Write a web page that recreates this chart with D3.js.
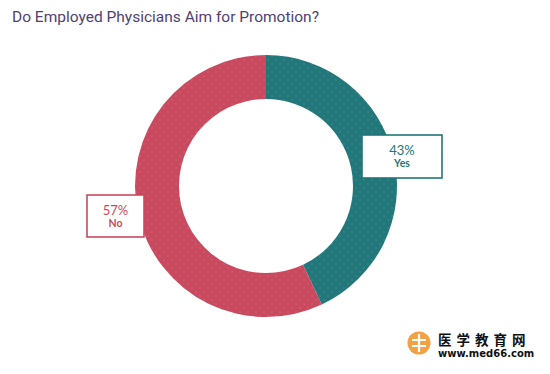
<!DOCTYPE html>
<html>
<head>
<meta charset="utf-8">
<style>
  body { margin: 0; background: #fff; }
  svg { display: block; }
</style>
</head>
<body>
<svg width="550" height="374"></svg>
<script src="https://d3js.org/d3.v7.min.js"></script>
<script>
// data
const categories = ["Yes", "No"];
const values = [43, 57];
const colors = ["#217779", "#c9495f"];

const width = 550, height = 374;
const cx = 266, cy = 186;
const outerR = 131, innerR = 87;

const svg = d3.select("svg");

// faint dotted texture like the original
const defs = svg.append("defs");
colors.forEach((c, i) => {
  const p = defs.append("pattern")
    .attr("id", "dots" + i)
    .attr("width", 8).attr("height", 8)
    .attr("patternUnits", "userSpaceOnUse");
  p.append("rect").attr("width", 8).attr("height", 8).attr("fill", c);
  p.append("circle").attr("cx", 2).attr("cy", 2).attr("r", 0.8)
    .attr("fill", "#fff").attr("opacity", 0.16);
  p.append("circle").attr("cx", 6).attr("cy", 6).attr("r", 0.8)
    .attr("fill", "#fff").attr("opacity", 0.16);
});

svg.append("text")
  .attr("x", 12).attr("y", 22)
  .style("font-family", "Roboto, sans-serif")
  .style("font-size", "15.5px")
  .style("fill", "#503f72")
  .text("Do Employed Physicians Aim for Promotion?");

const pie = d3.pie().sort(null).value(d => d)(values);
const arc = d3.arc().innerRadius(innerR).outerRadius(outerR);

svg.append("g")
  .attr("transform", `translate(${cx},${cy})`)
  .selectAll("path")
  .data(pie)
  .join("path")
  .attr("d", arc)
  .attr("fill", (d, i) => `url(#dots${i})`);

// label boxes
const boxes = [
  { x: 362, y: 135, w: 80, h: 43 },
  { x: 87, y: 195, w: 57, h: 42 }
];
const g = svg.append("g");
boxes.forEach((b, i) => {
  g.append("rect")
    .attr("x", b.x).attr("y", b.y).attr("width", b.w).attr("height", b.h)
    .attr("fill", "#fff").attr("stroke", colors[i]).attr("stroke-width", 1.6);
  g.append("text")
    .attr("x", b.x + b.w / 2).attr("y", b.y + 19.5)
    .attr("text-anchor", "middle")
    .style("font-family", "Lato, sans-serif")
    .style("font-size", "13px")
    .style("fill", colors[i])
    .text(values[i] + "%");
  g.append("text")
    .attr("x", b.x + b.w / 2).attr("y", b.y + 32)
    .attr("text-anchor", "middle")
    .style("font-family", "Lato, sans-serif")
    .style("font-size", "10.5px")
    .style("font-weight", 700)
    .style("fill", colors[i])
    .text(categories[i]);
});

// watermark
const wm = svg.append("g");
wm.append("circle").attr("cx", 419).attr("cy", 343).attr("r", 11.5).attr("fill", "#f3a145");
wm.append("path")
  .attr("d", "M412,340 H426 M412,346 H426 M419,334 V352")
  .attr("stroke", "#fff").attr("stroke-width", 2.2).attr("fill", "none");
wm.append("text")
  .attr("x", 438).attr("y", 345)
  .style("font-family", "'Noto Sans CJK SC', sans-serif")
  .style("font-size", "13.5px").style("font-weight", 700)
  .style("letter-spacing", "5px")
  .style("fill", "#111")
  .text("医学教育网");
wm.append("text")
  .attr("x", 438).attr("y", 357)
  .style("font-family", "'DejaVu Sans', sans-serif")
  .style("font-size", "10px").style("font-weight", 700)
  .style("fill", "#111")
  .text("www.med66.com");
</script>
</body>
</html>
